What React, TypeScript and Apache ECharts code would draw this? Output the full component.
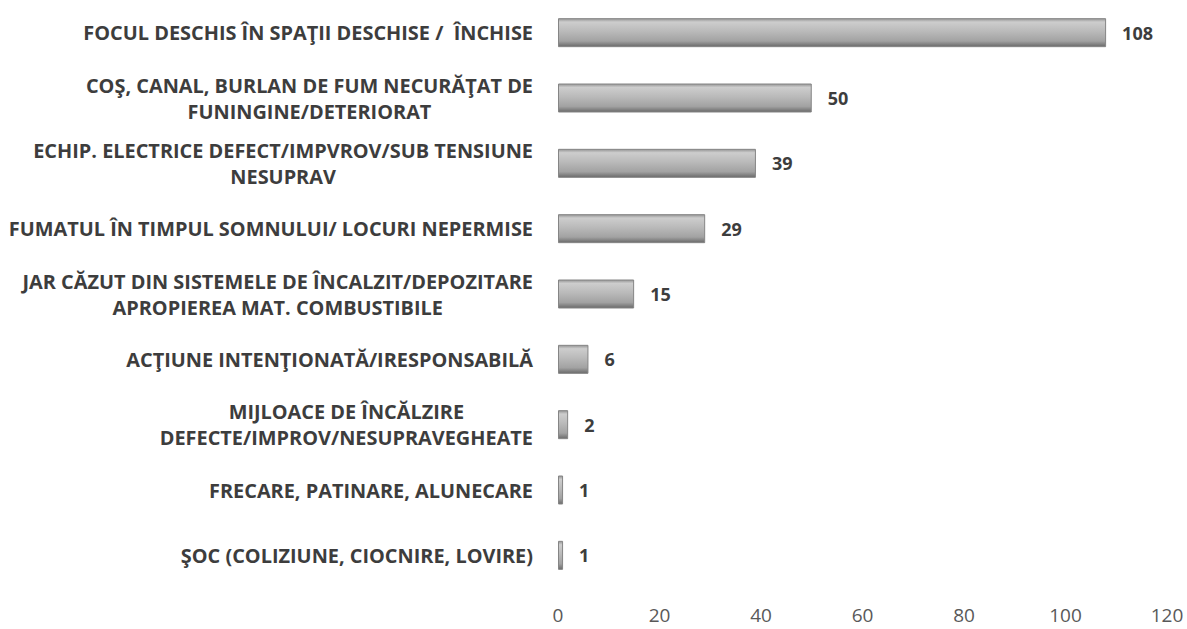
import React, { useEffect, useRef } from "react";
import * as echarts from "echarts";

const categories: string[] = [
  "FOCUL DESCHIS ÎN SPAŢII DESCHISE /  ÎNCHISE",
  "COŞ, CANAL, BURLAN DE FUM NECURĂŢAT DE\nFUNINGINE/DETERIORAT",
  "ECHIP. ELECTRICE DEFECT/IMPVROV/SUB TENSIUNE\nNESUPRAV",
  "FUMATUL ÎN TIMPUL SOMNULUI/ LOCURI NEPERMISE",
  "JAR CĂZUT DIN SISTEMELE DE ÎNCALZIT/DEPOZITARE\nAPROPIEREA MAT. COMBUSTIBILE",
  "ACŢIUNE INTENŢIONATĂ/IRESPONSABILĂ",
  "MIJLOACE DE ÎNCĂLZIRE\nDEFECTE/IMPROV/NESUPRAVEGHEATE",
  "FRECARE, PATINARE, ALUNECARE",
  "ŞOC (COLIZIUNE, CIOCNIRE, LOVIRE)",
];
const values: number[] = [108, 50, 39, 29, 15, 6, 2, 1, 1];
const xMin = 0;
const xMax = 120;
const xStep = 20;

const FONT = "'Open Sans', Lato, sans-serif";

export default function App() {
  const ref = useRef<HTMLDivElement>(null);
  useEffect(() => {
    if (!ref.current) return;
    const chart = echarts.init(ref.current, undefined, { renderer: "svg" });
    chart.setOption({
      animation: false,
      backgroundColor: "#ffffff",
      grid: { left: 558, right: 20, top: -3, bottom: 41, containLabel: false },
      xAxis: {
        type: "value",
        min: xMin,
        max: xMax,
        interval: xStep,
        axisLine: { show: false },
        axisTick: { show: false },
        splitLine: { show: false },
        axisLabel: {
          margin: 17,
          color: "#595959",
          fontFamily: FONT,
          fontSize: 19,
        },
      },
      yAxis: {
        type: "category",
        inverse: true,
        data: categories,
        axisLine: { show: false },
        axisTick: { show: false },
        axisLabel: {
          margin: 25,
          align: "right",
          color: "#3d3d3d",
          fontFamily: FONT,
          fontWeight: "bold",
          fontSize: 19.9,
          lineHeight: 26,
          formatter: (v: string) =>
            v
              .split("\n")
              .map((l) => "{c|" + l + "}")
              .join("\n"),
          rich: {
            c: {
              align: "center",
              color: "#3d3d3d",
              fontFamily: FONT,
              fontWeight: "bold",
              fontSize: 19.9,
              lineHeight: 26,
            },
          },
        },
      },
      series: [
        {
          type: "bar",
          data: values,
          barWidth: 29,
          itemStyle: {
            color: new echarts.graphic.LinearGradient(0, 0, 0, 1, [
              { offset: 0, color: "#959595" },
              { offset: 0.12, color: "#cdcdcd" },
              { offset: 0.45, color: "#bababa" },
              { offset: 0.8, color: "#a2a2a2" },
              { offset: 1, color: "#6a6a6a" },
            ]),
            borderColor: "#858585",
            borderWidth: 1,
          },
          label: {
            show: true,
            position: "right",
            distance: 16,
            color: "#3d3d3d",
            fontFamily: FONT,
            fontWeight: "bold",
            fontSize: 18,
          },
        },
      ],
    });
    return () => chart.dispose();
  }, []);
  return <div ref={ref} style={{ width: 1187, height: 629, position: "absolute", left: 0, top: 0 }} />;
}
